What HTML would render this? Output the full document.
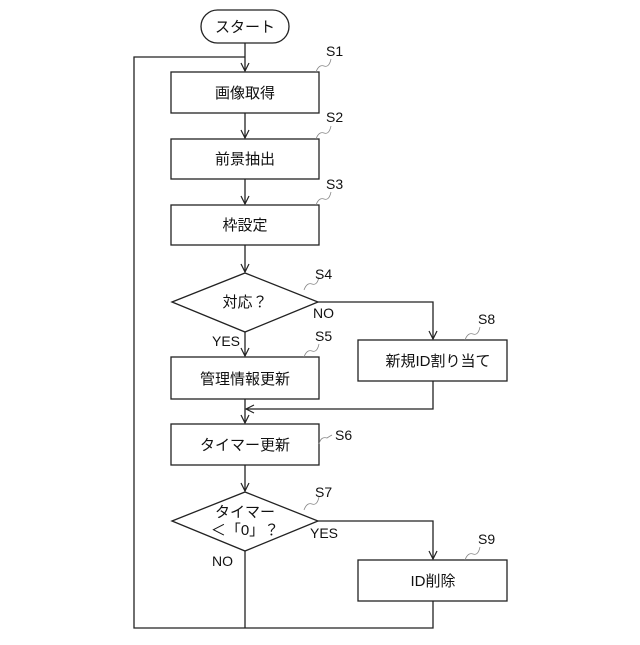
<!DOCTYPE html>
<html><head><meta charset="utf-8"><style>body{margin:0;background:#fff}svg text{font-family:"Liberation Sans","Noto Sans CJK JP",sans-serif;fill:#111}</style></head><body>
<svg width="640" height="640" viewBox="0 0 640 640" xmlns="http://www.w3.org/2000/svg">
<defs><marker id="a" markerWidth="10" markerHeight="10" refX="9" refY="5" orient="auto" markerUnits="userSpaceOnUse"><path d="M1,1 L9,5 L1,9" fill="none" stroke="#222" stroke-width="1.2"/></marker></defs>
<g stroke="#222" stroke-width="1.3" fill="#fff">
<rect x="201" y="10" width="88" height="33" rx="16.5"/>
<rect x="171" y="72" width="148" height="41"/>
<rect x="171" y="139" width="148" height="40"/>
<rect x="171" y="205" width="148" height="40"/>
<polygon points="172,302 245,273 318,302 245,332"/>
<rect x="171" y="357" width="148" height="42"/>
<rect x="358" y="340" width="149" height="41"/>
<rect x="171" y="424" width="148" height="41"/>
<polygon points="172,521 245,492 318,521 245,551"/>
<rect x="358" y="560" width="149" height="41"/>
</g>
<g stroke="#222" stroke-width="1.3" fill="none">
<line x1="245" y1="43" x2="245" y2="71" marker-end="url(#a)"/>
<polyline points="245,628 134,628 134,57 245,57"/>
<line x1="245" y1="113" x2="245" y2="138" marker-end="url(#a)"/>
<line x1="245" y1="179" x2="245" y2="204" marker-end="url(#a)"/>
<line x1="245" y1="245" x2="245" y2="272" marker-end="url(#a)"/>
<line x1="245" y1="332" x2="245" y2="356" marker-end="url(#a)"/>
<polyline points="318,302 433,302 433,339" marker-end="url(#a)"/>
<line x1="245" y1="399" x2="245" y2="423" marker-end="url(#a)"/>
<polyline points="433,381 433,409 246,409" marker-end="url(#a)"/>
<line x1="245" y1="465" x2="245" y2="491" marker-end="url(#a)"/>
<polyline points="318,521 433,521 433,559" marker-end="url(#a)"/>
<line x1="245" y1="551" x2="245" y2="628"/>
<polyline points="433,601 433,628 245,628"/>
<g stroke-width="0.8" stroke="#888">
<path d="M316,72 q3,-8 8,-6 q5,2 7,-7"/>
<path d="M316,139 q3,-8 8,-6 q5,2 7,-7"/>
<path d="M316,205 q3,-8 8,-6 q5,2 7,-7"/>
<path d="M304,290 q3,-8 8,-6 q5,2 7,-7"/>
<path d="M304,357 q3,-8 8,-6 q5,2 7,-7"/>
<path d="M465,340 q3,-8 8,-6 q5,2 7,-7"/>
<path d="M319,444 q2,-8 8,-6 q3,-2 5,-3"/>
<path d="M304,510 q3,-8 8,-6 q5,2 7,-7"/>
<path d="M465,560 q3,-8 8,-6 q5,2 7,-7"/>
</g>
</g>
<g font-size="15" text-anchor="middle">
<text x="245" y="32">スタート</text>
<text x="245" y="98">画像取得</text>
<text x="245" y="164">前景抽出</text>
<text x="245" y="230">枠設定</text>
<text x="245" y="307">対応？</text>
<text x="245" y="384">管理情報更新</text>
<text x="438" y="366">新規ID割り当て</text>
<text x="245" y="450">タイマー更新</text>
<text x="245" y="517">タイマー</text>
<text x="245" y="535">＜「0」？</text>
<text x="433" y="586">ID削除</text>
</g>
<g font-size="14">
<text x="326" y="56">S1</text><text x="326" y="122">S2</text><text x="326" y="189">S3</text>
<text x="315" y="279">S4</text><text x="315" y="341">S5</text><text x="478" y="324">S8</text>
<text x="335" y="440">S6</text><text x="315" y="497">S7</text><text x="478" y="544">S9</text>
<text x="313" y="318">NO</text><text x="212" y="346">YES</text>
<text x="310" y="538">YES</text><text x="212" y="566">NO</text>
</g>
</svg></body></html>
